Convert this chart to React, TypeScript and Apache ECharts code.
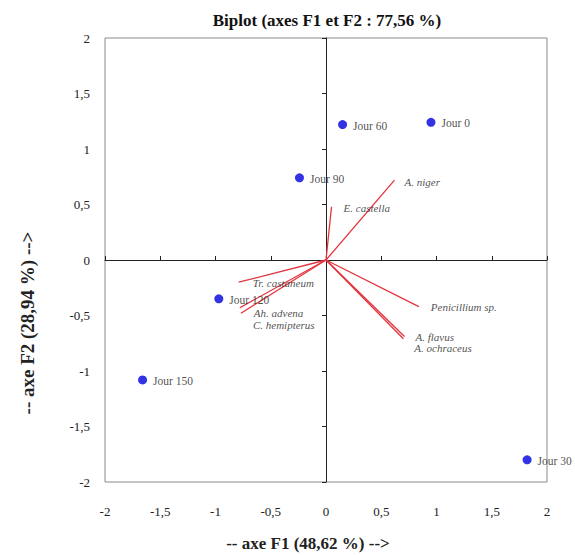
import React, { useEffect, useRef } from "react";
import * as echarts from "echarts";

const titleText = "Biplot (axes F1 et F2 : 77,56 %)";
const xAxisName = "-- axe F1 (48,62 %) -->";
const yAxisName = "-- axe F2 (28,94 %) -->";

const jourNames = ["Jour 0", "Jour 30", "Jour 60", "Jour 90", "Jour 120", "Jour 150"];
const jourF1 = [0.95, 1.82, 0.15, -0.24, -0.97, -1.66];
const jourF2 = [1.24, -1.8, 1.22, 0.74, -0.35, -1.08];

const varNames = [
  "A. niger",
  "E. castella",
  "Tr. castaneum",
  "Ah. advena",
  "C. hemipterus",
  "Penicillium sp.",
  "A. flavus",
  "A. ochraceus",
];
const varF1 = [0.62, 0.05, -0.79, -0.78, -0.77, 0.84, 0.71, 0.7];
const varF2 = [0.72, 0.48, -0.2, -0.43, -0.48, -0.42, -0.69, -0.71];
// label offsets (style only)
const varLabelOffsets: [number, number][] = [
  [10, 2],
  [12, 1],
  [14, 1],
  [14, 5],
  [12, 12],
  [12, 0],
  [11, 0],
  [11, 9],
];

const FONT = "'Liberation Serif', 'Times New Roman', serif";
const fmt = (v: number) => String(v).replace(".", ",");

export default function App() {
  const ref = useRef<HTMLDivElement>(null);
  useEffect(() => {
    if (!ref.current) return;
    document.body.style.margin = "0";
    const chart = echarts.init(ref.current, undefined, { renderer: "svg" });
    const axisCommon = { type: "value" as const, min: -2, max: 2, interval: 0.5 };
    chart.setOption({
      animation: false,
      title: {
        text: titleText,
        left: 322,
        textAlign: "center",
        top: 7,
        textStyle: { fontFamily: FONT, fontSize: 17, fontWeight: "bold", color: "#111" },
      },
      grid: {
        left: 105,
        right: 28,
        top: 38,
        bottom: 73,
        show: true,
        borderColor: "#8a8a8a",
        borderWidth: 1,
        backgroundColor: "transparent",
      },
      xAxis: [
        {
          ...axisCommon,
          position: "bottom",
          axisLine: { show: false, onZero: false },
          axisTick: { show: false },
          splitLine: { show: false },
          axisLabel: { formatter: fmt, fontFamily: FONT, fontSize: 13, color: "#222", margin: 23 },
        },
        {
          ...axisCommon,
          position: "top",
          axisLine: { show: true, onZero: true, lineStyle: { color: "#222", width: 1 } },
          axisTick: { show: true, length: 4, lineStyle: { color: "#222" } },
          axisLabel: { show: false },
          splitLine: { show: false },
        },
      ],
      yAxis: [
        {
          ...axisCommon,
          position: "left",
          axisLine: { show: false, onZero: false },
          axisTick: { show: false },
          splitLine: { show: false },
          axisLabel: { formatter: fmt, fontFamily: FONT, fontSize: 13, color: "#222", margin: 15 },
        },
        {
          ...axisCommon,
          position: "left",
          axisLine: { show: true, onZero: true, lineStyle: { color: "#222", width: 1 } },
          axisTick: { show: true, length: 4, lineStyle: { color: "#222" } },
          axisLabel: { show: false },
          splitLine: { show: false },
        },
      ],
      graphic: [
        {
          type: "text",
          x: 27,
          y: 323,
          rotation: Math.PI / 2,
          style: {
            text: yAxisName,
            font: `bold 19px ${FONT}`,
            fill: "#222",
            align: "center",
            verticalAlign: "middle",
          },
        },
        {
          type: "text",
          x: 308,
          y: 543,
          style: {
            text: xAxisName,
            font: `bold 17px ${FONT}`,
            fill: "#222",
            align: "center",
            verticalAlign: "middle",
          },
        },
      ],
      series: [
        {
          type: "lines",
          coordinateSystem: "cartesian2d",
          xAxisIndex: 0,
          yAxisIndex: 0,
          lineStyle: { color: "#e2343e", width: 1.3, opacity: 1 },
          data: varNames.map((n, i) => ({ name: n, coords: [[0, 0], [varF1[i], varF2[i]]] })),
          silent: true,
        },
        {
          type: "scatter",
          xAxisIndex: 0,
          yAxisIndex: 0,
          symbolSize: 0,
          data: varNames.map((n, i) => ({
            name: n,
            value: [varF1[i], varF2[i]],
            label: { offset: varLabelOffsets[i] },
          })),
          label: {
            show: true,
            position: "right",
            distance: 0,
            formatter: (p: any) => p.name,
            fontFamily: FONT,
            fontStyle: "italic",
            fontSize: 11,
            color: "#222",
          },
          silent: true,
        },
        {
          type: "scatter",
          xAxisIndex: 0,
          yAxisIndex: 0,
          symbol: "circle",
          symbolSize: 9,
          itemStyle: { color: "#0000dc" },
          data: jourNames.map((n, i) => ({ name: n, value: [jourF1[i], jourF2[i]] })),
          label: {
            show: true,
            position: "right",
            distance: 6,
            offset: [0, 1],
            formatter: (p: any) => p.name,
            fontFamily: FONT,
            fontSize: 11.5,
            color: "#222",
          },
          silent: true,
        },
      ],
    });
    return () => chart.dispose();
  }, []);
  return <div ref={ref} style={{ width: 575, height: 555 }} />;
}
